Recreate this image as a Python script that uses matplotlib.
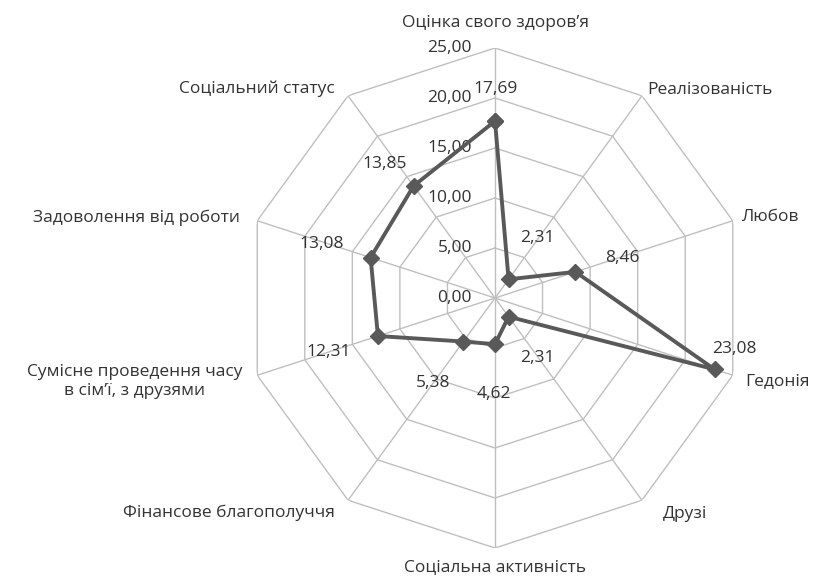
import numpy as np
import matplotlib
matplotlib.use("Agg")
import matplotlib.pyplot as plt

plt.rcParams['font.family'] = ['Open Sans', 'DejaVu Sans']

categories = ["Оцінка свого здоров’я", "Реалізованість", "Любов", "Гедонія", "Друзі",
              "Соціальна активність", "Фінансове благополуччя",
              "Сумісне проведення часу\nв сім’ї, з друзями",
              "Задоволення від роботи", "Соціальний статус"]
values = [17.69, 2.31, 8.46, 23.08, 2.31, 4.62, 5.38, 12.31, 13.08, 13.85]
rings = [0, 5, 10, 15, 20, 25]

# label placement (pixel offsets), style only
cat_off = [(0, 25, 'center'), (5, 6, 'left'), (9, 4, 'left'), (12, -6, 'left'),
           (21, -14, 'left'), (0, -19, 'center'), (-13, -13, 'right'),
           (-15, -6, 'right'), (-17, 3, 'right'), (-13, 7, 'right')]
val_off = [(1, 32), (29, 41), (47, 14), (20, 20), (29, -41), (-1, -50),
           (-30, -41), (-49, -16), (-49, 14), (-29, 22)]

N = len(categories)
angles = np.arange(N) * 2 * np.pi / N
closed = np.append(angles, angles[0])

fig = plt.figure(figsize=(8.17, 5.82), dpi=100)
ax = fig.add_axes([245 / 817, 34 / 582, 500 / 817, 500 / 582], projection='polar')
ax.set_theta_zero_location('N')
ax.set_theta_direction(-1)
ax.set_ylim(0, 25)
ax.grid(False)
ax.spines['polar'].set_visible(False)
ax.set_xticks([])
ax.set_yticks([])

grid_col = '#bfbfbf'
for r in rings[1:]:
    ax.plot(closed, [r] * (N + 1), color=grid_col, lw=1, zorder=1)
for a in angles:
    ax.plot([a, a], [0, rings[-1]], color=grid_col, lw=1, zorder=1)

txt = '#333333'
fs = 12.5
for r in rings:
    ax.annotate(f"{r:.2f}".replace('.', ','), (0, r), xytext=(-23, 0),
                textcoords='offset pixels', ha='right', va='center',
                fontsize=fs, color=txt)

vals = np.append(values, values[0])
ax.plot(closed, vals, color='#595959', lw=2.8, marker='D', markersize=8.5, zorder=3)

for a, v, (dx, dy) in zip(angles, values, val_off):
    ax.annotate(f"{v:.2f}".replace('.', ','), (a, v), xytext=(dx, dy),
                textcoords='offset pixels', ha='center', va='center',
                fontsize=fs, color=txt)

for a, c, (dx, dy, ha) in zip(angles, categories, cat_off):
    ax.annotate(c, (a, rings[-1]), xytext=(dx, dy), textcoords='offset pixels',
                ha=ha, va='center', multialignment='center', fontsize=fs,
                color=txt, linespacing=1.25, annotation_clip=False)

fig.savefig("out.png", dpi=100)
